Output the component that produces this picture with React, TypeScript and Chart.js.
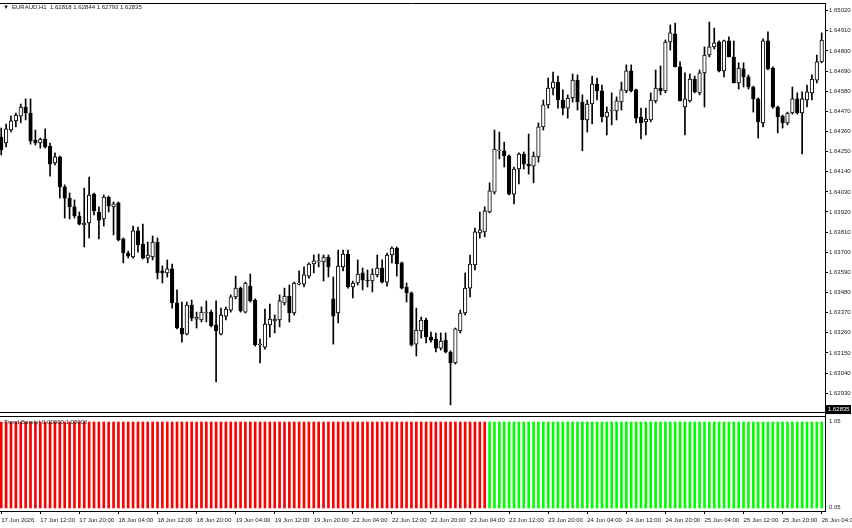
import React, { useEffect, useRef } from "react";
import { Chart, registerables } from "chart.js";

Chart.register(...registerables);

const symbolTitle = "EURAUD,H1  1.62818 1.62844 1.62793 1.62835";
const lastPrice = 1.62835;
const indicatorTitle = "Trend Bars(v) 0.00000 1.00000";
const indicatorAxisLabels = ["1.05", "0.05"];

// Hourly candles, 17 Jun 04:00 .. 26 Jun 04:00
const opens = [
  1.64330, 1.64297, 1.64368, 1.64418, 1.64444, 1.64494, 1.64461, 1.64313, 1.64297, 1.64319,
  1.64280, 1.64188, 1.64221, 1.64057, 1.63996, 1.63948, 1.63898, 1.63849, 1.63860, 1.64018,
  1.63920, 1.63882, 1.64002, 1.63948, 1.63970, 1.63773, 1.63696, 1.63674, 1.63817, 1.63745,
  1.63668, 1.63674, 1.63756, 1.63598, 1.63587, 1.63609, 1.63423, 1.63286, 1.63253, 1.63412,
  1.63335, 1.63330, 1.63368, 1.63373, 1.63303, 1.63253, 1.63351, 1.63384, 1.63456, 1.63504,
  1.63373, 1.63515, 1.63439, 1.63193, 1.63182, 1.63303, 1.63325, 1.63330, 1.63423, 1.63461,
  1.63368, 1.63526, 1.63526, 1.63570, 1.63636, 1.63647, 1.63647, 1.63674, 1.63445, 1.63368,
  1.63620, 1.63690, 1.63510, 1.63532, 1.63587, 1.63548, 1.63543, 1.63576, 1.63614, 1.63537,
  1.63685, 1.63723, 1.63642, 1.63510, 1.63478, 1.63198, 1.63270, 1.63330, 1.63237, 1.63226,
  1.63176, 1.63220, 1.63155, 1.63095, 1.63270, 1.63368, 1.63504, 1.63631, 1.63806, 1.63811,
  1.63920, 1.64029, 1.64254, 1.64254, 1.64226, 1.64018, 1.64155, 1.64237, 1.64182, 1.64171,
  1.64221, 1.64385, 1.64505, 1.64597, 1.64630, 1.64532, 1.64488, 1.64543, 1.64641, 1.64521,
  1.64423, 1.64510, 1.64619, 1.64582, 1.64439, 1.64472, 1.64472, 1.64521, 1.64582, 1.64691,
  1.64587, 1.64439, 1.64412, 1.64423, 1.64527, 1.64597, 1.64582, 1.64849, 1.64893, 1.64713,
  1.64494, 1.64527, 1.64647, 1.64571, 1.64680, 1.64778, 1.64822, 1.64849, 1.64691, 1.64855,
  1.64767, 1.64625, 1.64702, 1.64658, 1.64603, 1.64538, 1.64407, 1.64855, 1.64707, 1.64494,
  1.64444, 1.64407, 1.64461, 1.64538, 1.64461, 1.64532, 1.64571, 1.64641, 1.64740,
];

const highs = [
  1.64379, 1.64401, 1.64444, 1.64461, 1.64510, 1.64538, 1.64538, 1.64368, 1.64324, 1.64374,
  1.64297, 1.64243, 1.64226, 1.64068, 1.64024, 1.63986, 1.63920, 1.64051, 1.64111, 1.64024,
  1.63948, 1.64013, 1.64007, 1.63975, 1.63975, 1.63778, 1.63707, 1.63843, 1.63838, 1.63854,
  1.63756, 1.63789, 1.63778, 1.63625, 1.63658, 1.63636, 1.63494, 1.63428, 1.63428, 1.63439,
  1.63373, 1.63401, 1.63434, 1.63384, 1.63434, 1.63395, 1.63401, 1.63467, 1.63570, 1.63510,
  1.63537, 1.63581, 1.63445, 1.63226, 1.63390, 1.63417, 1.63357, 1.63467, 1.63504, 1.63521,
  1.63537, 1.63598, 1.63620, 1.63642, 1.63685, 1.63690, 1.63685, 1.63685, 1.63565, 1.63712,
  1.63712, 1.63712, 1.63543, 1.63658, 1.63614, 1.63603, 1.63609, 1.63685, 1.63658, 1.63696,
  1.63729, 1.63729, 1.63647, 1.63532, 1.63483, 1.63395, 1.63346, 1.63340, 1.63264, 1.63259,
  1.63259, 1.63259, 1.63161, 1.63286, 1.63384, 1.63587, 1.63685, 1.63832, 1.63920, 1.63948,
  1.64079, 1.64368, 1.64357, 1.64302, 1.64232, 1.64166, 1.64243, 1.64248, 1.64346, 1.64248,
  1.64407, 1.64532, 1.64652, 1.64685, 1.64663, 1.64587, 1.64560, 1.64674, 1.64669, 1.64560,
  1.64532, 1.64663, 1.64652, 1.64614, 1.64494, 1.64571, 1.64549, 1.64630, 1.64724, 1.64724,
  1.64592, 1.64488, 1.64488, 1.64571, 1.64696, 1.64718, 1.64860, 1.64942, 1.64953, 1.64740,
  1.64680, 1.64674, 1.64663, 1.64696, 1.64822, 1.64958, 1.64925, 1.64855, 1.64860, 1.64877,
  1.64855, 1.64735, 1.64735, 1.64669, 1.64608, 1.64543, 1.64866, 1.64904, 1.64713, 1.64499,
  1.64450, 1.64466, 1.64603, 1.64571, 1.64576, 1.64614, 1.64669, 1.64778, 1.64899,
];

const lows = [
  1.64232, 1.64275, 1.64357, 1.64385, 1.64407, 1.64423, 1.64291, 1.64286, 1.64269, 1.64269,
  1.64116, 1.64177, 1.63996, 1.63887, 1.63882, 1.63887, 1.63849, 1.63729, 1.63778, 1.63904,
  1.63773, 1.63843, 1.63920, 1.63795, 1.63762, 1.63642, 1.63668, 1.63668, 1.63701, 1.63663,
  1.63642, 1.63658, 1.63554, 1.63532, 1.63565, 1.63395, 1.63281, 1.63209, 1.63248, 1.63325,
  1.63286, 1.63319, 1.63319, 1.63292, 1.62991, 1.63248, 1.63330, 1.63373, 1.63445, 1.63373,
  1.63368, 1.63428, 1.63187, 1.63095, 1.63171, 1.63237, 1.63259, 1.63292, 1.63412, 1.63319,
  1.63357, 1.63521, 1.63510, 1.63559, 1.63587, 1.63620, 1.63543, 1.63565, 1.63198, 1.63314,
  1.63598, 1.63504, 1.63450, 1.63521, 1.63494, 1.63510, 1.63483, 1.63565, 1.63532, 1.63515,
  1.63642, 1.63570, 1.63499, 1.63428, 1.63187, 1.63133, 1.63231, 1.63204, 1.63209, 1.63155,
  1.63166, 1.63150, 1.62866, 1.63089, 1.63259, 1.63357, 1.63456, 1.63603, 1.63778, 1.63784,
  1.63915, 1.64018, 1.64210, 1.64166, 1.64013, 1.63964, 1.64073, 1.64155, 1.64127, 1.64079,
  1.64193, 1.64368, 1.64488, 1.64560, 1.64488, 1.64450, 1.64433, 1.64521, 1.64477, 1.64254,
  1.64357, 1.64401, 1.64532, 1.64412, 1.64341, 1.64396, 1.64423, 1.64477, 1.64571, 1.64576,
  1.64407, 1.64319, 1.64341, 1.64412, 1.64516, 1.64560, 1.64571, 1.64805, 1.64713, 1.64527,
  1.64341, 1.64521, 1.64571, 1.64560, 1.64494, 1.64767, 1.64811, 1.64685, 1.64658, 1.64767,
  1.64625, 1.64592, 1.64603, 1.64592, 1.64466, 1.64324, 1.64385, 1.64696, 1.64488, 1.64352,
  1.64379, 1.64396, 1.64455, 1.64455, 1.64237, 1.64494, 1.64532, 1.64625, 1.64735,
];

const closes = [
  1.64259, 1.64374, 1.64418, 1.64450, 1.64494, 1.64461, 1.64308, 1.64297, 1.64319, 1.64275,
  1.64182, 1.64221, 1.64057, 1.63996, 1.63948, 1.63898, 1.63854, 1.63860, 1.64013, 1.63926,
  1.63876, 1.64002, 1.63953, 1.63964, 1.63767, 1.63696, 1.63679, 1.63817, 1.63740, 1.63668,
  1.63685, 1.63756, 1.63587, 1.63587, 1.63609, 1.63423, 1.63286, 1.63253, 1.63412, 1.63340,
  1.63346, 1.63373, 1.63373, 1.63297, 1.63270, 1.63357, 1.63390, 1.63456, 1.63504, 1.63379,
  1.63532, 1.63434, 1.63193, 1.63198, 1.63308, 1.63335, 1.63335, 1.63434, 1.63461, 1.63368,
  1.63532, 1.63532, 1.63576, 1.63636, 1.63653, 1.63653, 1.63674, 1.63620, 1.63351, 1.63625,
  1.63690, 1.63510, 1.63532, 1.63581, 1.63548, 1.63543, 1.63581, 1.63614, 1.63537, 1.63685,
  1.63723, 1.63636, 1.63504, 1.63478, 1.63193, 1.63275, 1.63330, 1.63237, 1.63220, 1.63176,
  1.63215, 1.63155, 1.63095, 1.63281, 1.63368, 1.63504, 1.63636, 1.63811, 1.63822, 1.63926,
  1.64035, 1.64264, 1.64259, 1.64226, 1.64018, 1.64155, 1.64237, 1.64182, 1.64171, 1.64226,
  1.64385, 1.64505, 1.64597, 1.64630, 1.64532, 1.64488, 1.64543, 1.64641, 1.64521, 1.64423,
  1.64510, 1.64619, 1.64582, 1.64439, 1.64466, 1.64477, 1.64527, 1.64587, 1.64691, 1.64582,
  1.64433, 1.64407, 1.64428, 1.64532, 1.64597, 1.64582, 1.64849, 1.64899, 1.64713, 1.64527,
  1.64538, 1.64647, 1.64576, 1.64680, 1.64778, 1.64822, 1.64844, 1.64691, 1.64855, 1.64767,
  1.64625, 1.64707, 1.64658, 1.64603, 1.64538, 1.64412, 1.64855, 1.64702, 1.64494, 1.64439,
  1.64407, 1.64461, 1.64538, 1.64461, 1.64538, 1.64576, 1.64647, 1.64740, 1.64860,
];

// Trend Bars indicator: 0 = down (red), 1 = up (green)
const trendDir = [
  0, 0, 0, 0, 0, 0, 0, 0, 0, 0, 0, 0, 0, 0, 0, 0, 0, 0, 0, 0,
  0, 0, 0, 0, 0, 0, 0, 0, 0, 0, 0, 0, 0, 0, 0, 0, 0, 0, 0, 0,
  0, 0, 0, 0, 0, 0, 0, 0, 0, 0, 0, 0, 0, 0, 0, 0, 0, 0, 0, 0,
  0, 0, 0, 0, 0, 0, 0, 0, 0, 0, 0, 0, 0, 0, 0, 0, 0, 0, 0, 0,
  0, 0, 0, 0, 0, 0, 0, 0, 0, 0, 0, 0, 0, 0, 0, 0, 0, 0, 0, 0,
  1, 1, 1, 1, 1, 1, 1, 1, 1, 1, 1, 1, 1, 1, 1, 1, 1, 1, 1, 1,
  1, 1, 1, 1, 1, 1, 1, 1, 1, 1, 1, 1, 1, 1, 1, 1, 1, 1, 1, 1,
  1, 1, 1, 1, 1, 1, 1, 1, 1, 1, 1, 1, 1, 1, 1, 1, 1, 1, 1, 1,
  1, 1, 1, 1, 1, 1, 1, 1, 1,
];
const trendValue = 1;

const priceTicks = [
  1.65020, 1.64910, 1.64800, 1.64690, 1.64580, 1.64470, 1.64360, 1.64250, 1.64140, 1.64030,
  1.63920, 1.63810, 1.63700, 1.63590, 1.63480, 1.63370, 1.63260, 1.63150, 1.63040, 1.62930,
];

const timeLabelBars = [0, 8, 16, 24, 32, 40, 48, 56, 64, 72, 80, 88, 96, 104, 112, 120, 128, 136, 144, 152, 160, 168];
const timeLabels = [
  "17 Jun 2026", "17 Jun 12:00", "17 Jun 20:00", "18 Jun 04:00", "18 Jun 12:00", "18 Jun 20:00",
  "19 Jun 04:00", "19 Jun 12:00", "19 Jun 20:00", "22 Jun 04:00", "22 Jun 12:00", "22 Jun 20:00",
  "23 Jun 04:00", "23 Jun 12:00", "23 Jun 20:00", "24 Jun 04:00", "24 Jun 12:00", "24 Jun 20:00",
  "25 Jun 04:00", "25 Jun 12:00", "25 Jun 20:00", "26 Jun 04:00",
];

const FAMILY = "'Liberation Sans', Arial, sans-serif";
const FONT_SIZE = 6;
const TEXT = "#1a1a1a";
const AXIS = "#000000";

export default function App() {
  const ref = useRef<HTMLCanvasElement>(null);

  useEffect(() => {
    const canvas = ref.current;
    if (!canvas) return;
    const idx = opens.map((_, i) => i);
    const wickData = idx.map((i) => ({ x: i, y: [lows[i], highs[i]] }));
    const bodyData = idx.map((i) => ({
      x: i,
      y: [Math.min(opens[i], closes[i]), Math.max(opens[i], closes[i])],
    }));
    const bodyColors = idx.map((i) => (closes[i] >= opens[i] ? "#ffffff" : "#000000"));
    const trendData = trendDir.map((_, i) => ({ x: i, y: trendValue }));
    const trendColors = trendDir.map((d) => (d === 1 ? "#00ff00" : "#ff0000"));

    const overlay = {
      id: "mtOverlay",
      afterDraw(chart: any) {
        const { ctx, chartArea } = chart;
        const yS = chart.scales.y;
        const y2S = chart.scales.y2;
        ctx.save();
        ctx.strokeStyle = AXIS;
        ctx.lineWidth = 1;
        ctx.beginPath();
        ctx.moveTo(0, chartArea.top + 0.5);
        ctx.lineTo(chartArea.right, chartArea.top + 0.5);
        ctx.moveTo(0, yS.bottom - 0.5);
        ctx.lineTo(chartArea.right, yS.bottom - 0.5);
        ctx.moveTo(0, y2S.top + 3.5);
        ctx.lineTo(chartArea.right, y2S.top + 3.5);
        ctx.stroke();
        ctx.fillStyle = "#ffffff";
        ctx.fillRect(0, yS.bottom, chartArea.right, 3);

        ctx.font = `${FONT_SIZE}px ${FAMILY}`;
        ctx.fillStyle = TEXT;
        ctx.textBaseline = "middle";
        ctx.textAlign = "left";
        ctx.fillText("\u25BC", 3, 7);
        ctx.fillText(symbolTitle, 12, 7);
        ctx.fillText(indicatorTitle, 4, y2S.top + 9);

        ctx.fillText(indicatorAxisLabels[0], chartArea.right + 4, y2S.top + 8);
        ctx.fillText(indicatorAxisLabels[1], chartArea.right + 4, y2S.bottom - 4);

        const py = yS.getPixelForValue(lastPrice);
        ctx.fillStyle = "#000000";
        ctx.fillRect(chartArea.right, py - 5.5, 26, 9);
        ctx.fillStyle = "#ffffff";
        ctx.fillText(lastPrice.toFixed(5), chartArea.right + 3, py - 1);
        ctx.restore();
      },
    };

    const font = { family: FAMILY, size: FONT_SIZE };

    const chart = new Chart(canvas, {
      type: "bar",
      data: {
        datasets: [
          {
            label: "wick",
            data: wickData as any,
            backgroundColor: "#000000",
            barThickness: 1,
            grouped: false,
            order: 2,
            yAxisID: "y",
          },
          {
            label: "body",
            data: bodyData as any,
            backgroundColor: bodyColors,
            borderColor: "#000000",
            borderWidth: 1,
            borderSkipped: false,
            barThickness: 3.6,
            minBarLength: 1,
            grouped: false,
            order: 1,
            yAxisID: "y",
          },
          {
            label: "trend",
            data: trendData as any,
            backgroundColor: trendColors,
            barThickness: 2,
            grouped: false,
            order: 3,
            yAxisID: "y2",
          },
        ],
      },
      options: {
        responsive: false,
        animation: false,
        devicePixelRatio: 1,
        layout: { padding: { top: 3, left: 0, right: 0, bottom: 0 } },
        plugins: { legend: { display: false }, tooltip: { enabled: false } },
        scales: {
          x: {
            type: "linear",
            min: -0.25,
            max: 168.68,
            offset: false,
            position: "bottom",
            grid: { display: true, offset: false, drawOnChartArea: false, drawTicks: true, tickLength: 3, color: AXIS },
            border: { display: true, color: AXIS },
            ticks: {
              autoSkip: false,
              maxRotation: 0,
              minRotation: 0,
              align: "start",
              padding: 3,
              font,
              color: TEXT,
              callback: (v: any) => {
                const k = timeLabelBars.indexOf(Number(v));
                return k >= 0 ? timeLabels[k] : "";
              },
            },
            afterBuildTicks: (s: any) => {
              s.ticks = timeLabelBars.map((v) => ({ value: v }));
            },
            afterFit: (s: any) => {
              s.height = 17;
              s.paddingLeft = 0;
              s.paddingRight = 0;
            },
          } as any,
          y: {
            type: "linear",
            position: "right",
            stack: "pane",
            stackWeight: 410,
            min: 1.628216,
            max: 1.650621,
            grid: { display: true, drawOnChartArea: false, drawTicks: true, tickLength: 3, color: AXIS },
            border: { display: true, color: AXIS },
            ticks: {
              autoSkip: false,
              crossAlign: "near",
              padding: 1,
              font,
              color: TEXT,
              callback: (v: any) => Number(v).toFixed(5),
            },
            afterBuildTicks: (s: any) => {
              s.ticks = priceTicks.map((v) => ({ value: v }));
            },
            afterFit: (s: any) => {
              s.width = 27;
              s.paddingTop = 0;
              s.paddingBottom = 0;
            },
          } as any,
          y2: {
            type: "linear",
            position: "right",
            stack: "pane",
            stackWeight: 98,
            min: -0.0349,
            max: 1.1047,
            grid: { display: false },
            border: { display: true, color: AXIS },
            ticks: { display: false },
            afterFit: (s: any) => {
              s.width = 27;
              s.paddingTop = 0;
              s.paddingBottom = 0;
            },
          } as any,
        },
      },
      plugins: [overlay],
    });

    return () => chart.destroy();
  }, []);

  return (
    <div style={{ position: "absolute", left: 0, top: 0, width: 852, height: 528, background: "#ffffff" }}>
      <canvas ref={ref} width={852} height={528} style={{ display: "block" }} />
    </div>
  );
}
